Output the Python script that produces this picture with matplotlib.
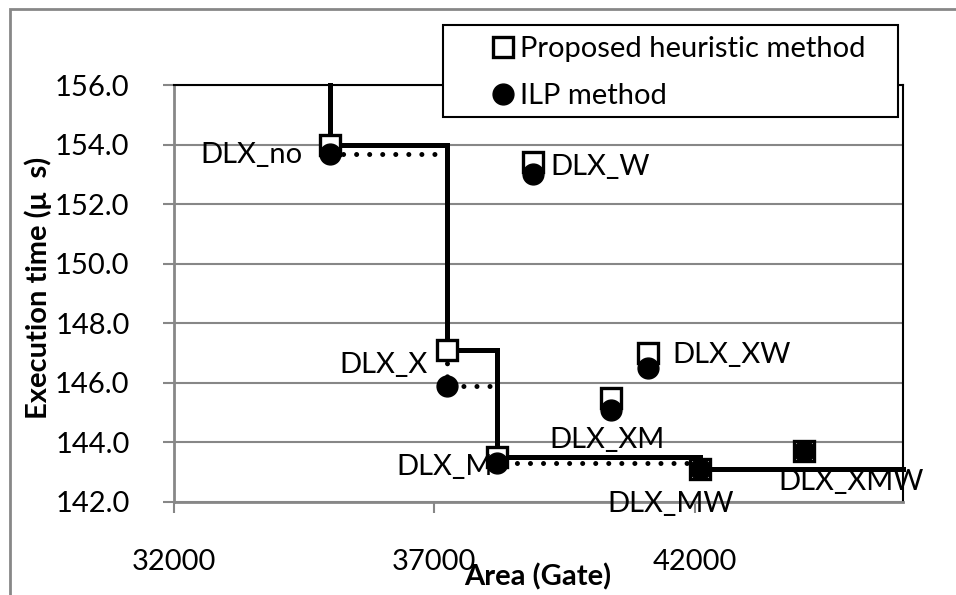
import matplotlib
matplotlib.use('Agg')
import matplotlib.pyplot as plt
from matplotlib.lines import Line2D
from matplotlib.patches import Rectangle

# design points: area (gate), execution time (us)
names = ['DLX_no', 'DLX_X', 'DLX_M', 'DLX_W', 'DLX_XM', 'DLX_XW', 'DLX_MW', 'DLX_XMW']
area = [35000, 37250, 38200, 38900, 40400, 41100, 42100, 44100]
heur_time = [154.0, 147.1, 143.5, 153.4, 145.5, 147.0, 143.1, 143.7]
ilp_time = [153.7, 145.9, 143.3, 153.0, 145.1, 146.5, 143.1, 143.7]

# label offsets (points) from the ILP point, and alignment
lab_off = [(-20, -1), (-14, 15), (-3, -3), (12, 5), (-3, -22), (18, 9), (-21, -25), (34, -22)]
lab_ha = ['right', 'right', 'right', 'left', 'center', 'left', 'center', 'center']

xmin, xmax = 32000, 46000
ymin, ymax = 142.0, 156.0
grey = '#878787'

plt.rcParams['font.family'] = ['Lato', 'DejaVu Sans']
fs = 21


def pareto(xs, ys):
    # points that are faster than every smaller design
    order = sorted(range(len(xs)), key=lambda i: xs[i])
    fx, fy = [], []
    best = None
    for i in order:
        if best is None or ys[i] < best:
            fx.append(xs[i])
            fy.append(ys[i])
            best = ys[i]
    return fx, fy


fig = plt.figure(figsize=(9.56, 5.95), dpi=100)
ax = fig.add_axes([174/956, 93/595, 729/956, 417/595])

# heuristic front (solid), starts at top of axis
hx, hy = pareto(area, heur_time)
ax.step([hx[0]] + hx + [xmax], [ymax] + hy + [hy[-1]], where='post',
        color='black', lw=3.6, zorder=3, solid_joinstyle='miter', clip_on=False)

# ILP front (dotted)
ix, iy = pareto(area, ilp_time)
ax.step(ix + [xmax], iy + [iy[-1]], where='post', color='black', lw=3.6,
        linestyle=(0, (0.01, 2.6)), dash_capstyle='round', zorder=2)

ax.plot(area, heur_time, 's', ms=14, mfc='white', mec='black', mew=2.4,
        zorder=4, clip_on=False)
ax.plot(area, ilp_time, 'o', ms=15, mfc='black', mec='black', zorder=5,
        clip_on=False)

for n, x, y, off, ha in zip(names, area, ilp_time, lab_off, lab_ha):
    ax.annotate(n, (x, y), xytext=off, textcoords='offset points', ha=ha,
                va='center', fontsize=fs, zorder=6, annotation_clip=False)

ax.set_xlim(xmin, xmax)
ax.set_ylim(ymin, ymax)
ax.set_xticks([32000, 37000, 42000])
yt = [142 + 2*i for i in range(8)]
ax.set_yticks(yt)
ax.set_yticklabels(['%.1f' % v for v in yt])
ax.grid(axis='y', color=grey, lw=1.5, zorder=0)
ax.set_axisbelow(True)

ax.tick_params(axis='x', length=8, width=1.5, color=grey, pad=26, labelsize=fs)
ax.tick_params(axis='y', length=8, width=1.5, color=grey, pad=24, labelsize=fs)
for s in ['left', 'bottom']:
    ax.spines[s].set_color(grey)
    ax.spines[s].set_linewidth(2)
for s in ['top', 'right']:
    ax.spines[s].set_color('black')
    ax.spines[s].set_linewidth(1.5)

fig.text(538/956, 1 - 577/595, 'Area (Gate)', ha='center', va='center',
         fontsize=fs, weight='bold')
fig.text(38/956, 1 - 288/595, 'Execution time (\u03bc  s)', ha='center',
         va='center', rotation=90, fontsize=fs, weight='bold')

# legend box, drawn by hand so the padding matches
fig.patches.append(Rectangle((443/956, 1 - 117/595), 455/956, 92/595,
                             facecolor='white', edgecolor='black', lw=1.5,
                             transform=fig.transFigure, zorder=8))
handles = [Line2D([], [], marker='s', ls='none', ms=14, mfc='white',
                  mec='black', mew=2.4),
           Line2D([], [], marker='o', ls='none', ms=15, mfc='black',
                  mec='black')]
leg = fig.legend(handles, ['Proposed heuristic method', 'ILP method'],
                 loc='upper left', bbox_to_anchor=(491/956, 1 - 36/595),
                 borderaxespad=0, borderpad=0, fontsize=fs, frameon=False,
                 handlelength=0.8, handletextpad=0.2, labelspacing=0.72)
leg.set_zorder(9)

# outer chart frame
fig.patches.append(Rectangle((10/956, -0.1), 1.2, 1.1 - 9/595, fill=False,
                             edgecolor=grey, lw=2, transform=fig.transFigure))

fig.savefig('out.png', dpi=100)
